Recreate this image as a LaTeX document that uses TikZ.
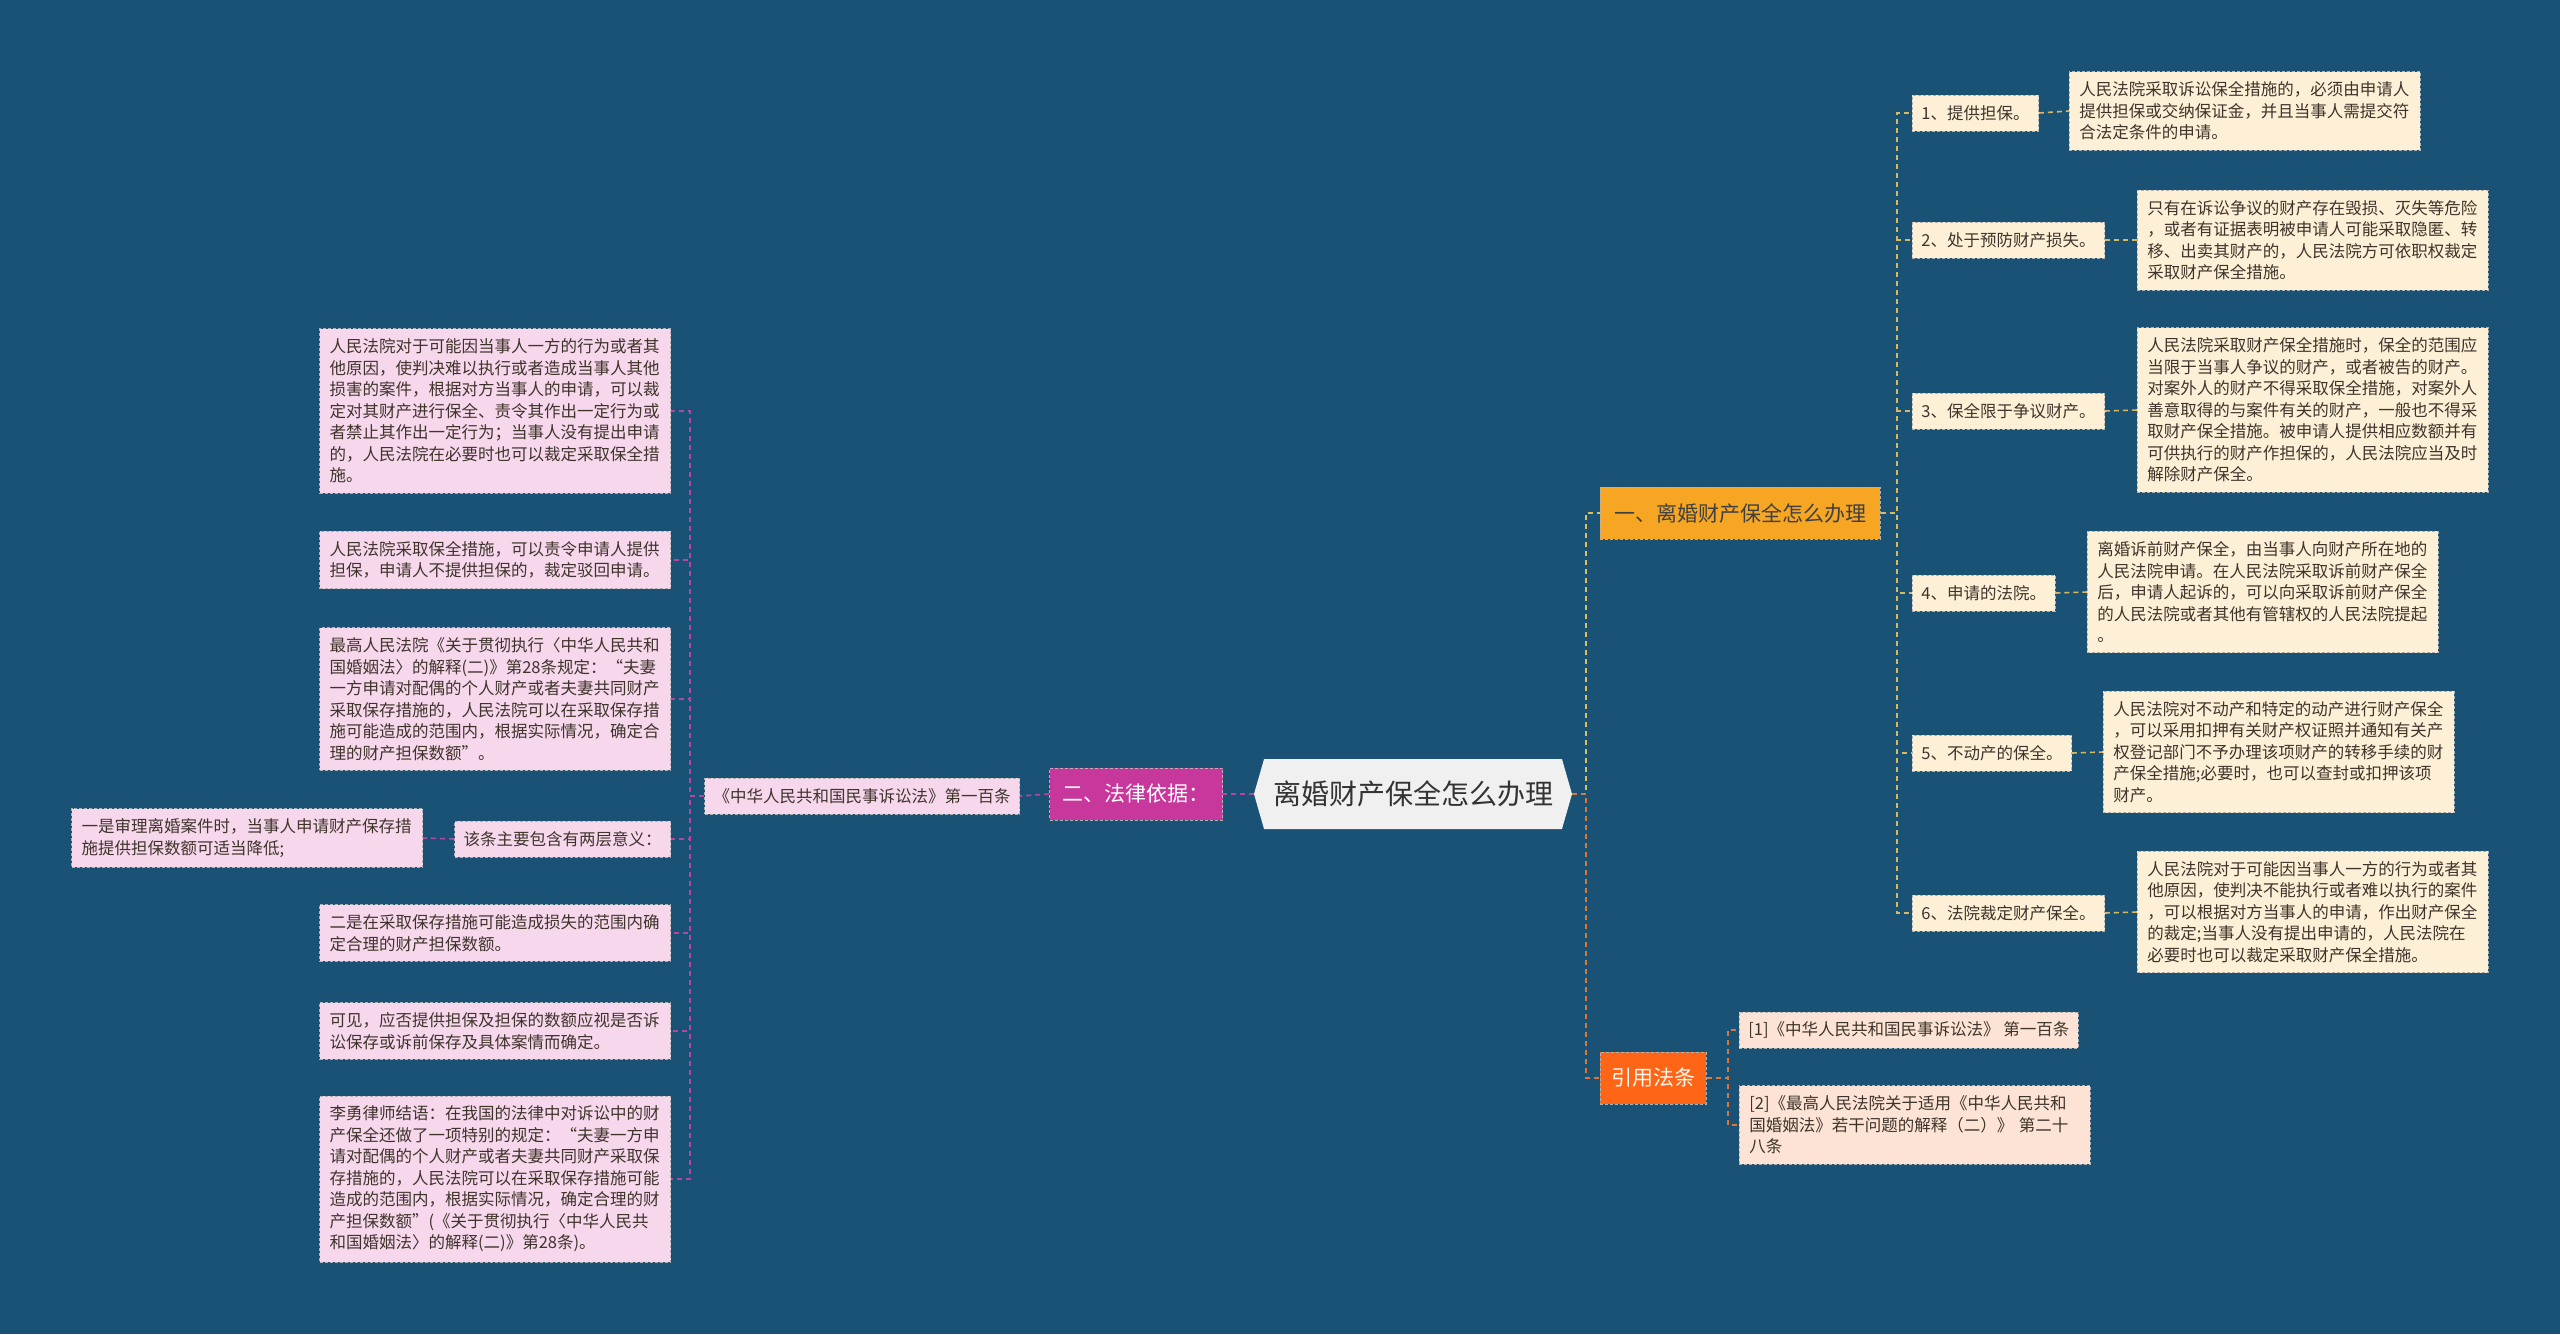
\documentclass[tikz,border=0pt]{standalone}
\usepackage{fontspec}
\setmainfont{Noto Sans CJK SC}
\usepackage{xcolor}
\usepackage{tikz}
\usetikzlibrary{shapes.symbols}
\definecolor{MapBg}{HTML}{1A5276}
\definecolor{MapRoot}{HTML}{F0F0F0}
\definecolor{MapGold}{HTML}{F6A623}
\definecolor{MapOrange}{HTML}{FF6516}
\definecolor{MapMagenta}{HTML}{C8379B}
\definecolor{MapCream}{HTML}{FDF0D6}
\definecolor{MapPeach}{HTML}{FCE3D5}
\definecolor{MapPink}{HTML}{F6D7EC}
\definecolor{MapLineGold}{HTML}{D9B862}
\definecolor{MapLineOrange}{HTML}{D9773C}
\definecolor{MapLineMagenta}{HTML}{B4489E}
\definecolor{MapInk}{HTML}{3F342B}

\begin{document}
\begin{tikzpicture}[
  x=1pt,
  y=-1pt,
  every node/.style={font=\fontsize{16.5}{21.5}\selectfont, inner xsep=10pt, inner ysep=10pt},
  box/.style={draw=gray!60!white, dash pattern=on 3pt off 2pt, line width=0.8pt, text=MapInk, align=left},
  leaf/.style={box, text width=331pt},
  tag/.style={box, minimum height=36pt, inner ysep=0pt, inner xsep=9pt},
  head/.style={box, font=\fontsize{21}{26}\selectfont, minimum height=52pt, inner ysep=0pt},
  link/.style={line width=1.6pt, dash pattern=on 5pt off 4pt}
]
\useasboundingbox (0,0) rectangle (2560,1334);
\fill[MapBg] (0,0) rectangle (2560,1334);

\node[signal, signal to=west and east, signal pointer angle=148, fill=MapRoot, text=black!80,
  font=\fontsize{28}{32}\selectfont, minimum height=70pt, minimum width=318pt, inner xsep=4pt]
  (root) at (1413,794) {离婚财产保全怎么办理};

\node[head, fill=MapGold, text=black!75, inner xsep=14pt, anchor=west] (howto) at (1600,513) {一、离婚财产保全怎么办理};
\node[head, fill=MapOrange, text=white!94!orange, inner xsep=11pt, anchor=west] (cite) at (1600,1078) {引用法条};
\node[head, fill=MapMagenta, text=white, inner xsep=13pt, anchor=east] (basis) at (1223,794) {二、法律依据：};

\node[tag, fill=MapCream, anchor=west] (step1) at (1912,113) {1、提供担保。};
\node[leaf, fill=MapCream, anchor=west] (note1) at (2069,111) {人民法院采取诉讼保全措施的，必须由申请人\\提供担保或交纳保证金，并且当事人需提交符\\合法定条件的申请。};

\node[tag, fill=MapCream, anchor=west] (step2) at (1912,240) {2、处于预防财产损失。};
\node[leaf, fill=MapCream, anchor=west] (note2) at (2137,240) {只有在诉讼争议的财产存在毁损、灭失等危险\\，或者有证据表明被申请人可能采取隐匿、转\\移、出卖其财产的，人民法院方可依职权裁定\\采取财产保全措施。};

\node[tag, fill=MapCream, anchor=west] (step3) at (1912,411) {3、保全限于争议财产。};
\node[leaf, fill=MapCream, anchor=west] (note3) at (2137,410) {人民法院采取财产保全措施时，保全的范围应\\当限于当事人争议的财产，或者被告的财产。\\对案外人的财产不得采取保全措施，对案外人\\善意取得的与案件有关的财产，一般也不得采\\取财产保全措施。被申请人提供相应数额并有\\可供执行的财产作担保的，人民法院应当及时\\解除财产保全。};

\node[tag, fill=MapCream, anchor=west] (step4) at (1912,593) {4、申请的法院。};
\node[leaf, fill=MapCream, anchor=west] (note4) at (2087,592) {离婚诉前财产保全，由当事人向财产所在地的\\人民法院申请。在人民法院采取诉前财产保全\\后，申请人起诉的，可以向采取诉前财产保全\\的人民法院或者其他有管辖权的人民法院提起\\。};

\node[tag, fill=MapCream, anchor=west] (step5) at (1912,753) {5、不动产的保全。};
\node[leaf, fill=MapCream, anchor=west] (note5) at (2103,752) {人民法院对不动产和特定的动产进行财产保全\\，可以采用扣押有关财产权证照并通知有关产\\权登记部门不予办理该项财产的转移手续的财\\产保全措施;必要时，也可以查封或扣押该项\\财产。};

\node[tag, fill=MapCream, anchor=west] (step6) at (1912,913) {6、法院裁定财产保全。};
\node[leaf, fill=MapCream, anchor=west] (note6) at (2137,912) {人民法院对于可能因当事人一方的行为或者其\\他原因，使判决不能执行或者难以执行的案件\\，可以根据对方当事人的申请，作出财产保全\\的裁定;当事人没有提出申请的，人民法院在\\必要时也可以裁定采取财产保全措施。};

\node[tag, fill=MapPeach, anchor=west] (ref1) at (1739,1030) {[1]《中华人民共和国民事诉讼法》 第一百条};
\node[leaf, fill=MapPeach, anchor=west] (ref2) at (1739,1125) {[2]《最高人民法院关于适用《中华人民共和\\国婚姻法》若干问题的解释（二）》 第二十\\八条};

\node[tag, fill=MapPink, anchor=east] (law100) at (1020,796) {《中华人民共和国民事诉讼法》第一百条};

\node[leaf, fill=MapPink, anchor=east] (left1) at (671,411) {人民法院对于可能因当事人一方的行为或者其\\他原因，使判决难以执行或者造成当事人其他\\损害的案件，根据对方当事人的申请，可以裁\\定对其财产进行保全、责令其作出一定行为或\\者禁止其作出一定行为；当事人没有提出申请\\的，人民法院在必要时也可以裁定采取保全措\\施。};
\node[leaf, fill=MapPink, anchor=east] (left2) at (671,560) {人民法院采取保全措施，可以责令申请人提供\\担保，申请人不提供担保的，裁定驳回申请。};
\node[leaf, fill=MapPink, anchor=east] (left3) at (671,699) {最高人民法院《关于贯彻执行〈中华人民共和\\国婚姻法〉的解释(二)》第28条规定：“夫妻\\一方申请对配偶的个人财产或者夫妻共同财产\\采取保存措施的，人民法院可以在采取保存措\\施可能造成的范围内，根据实际情况，确定合\\理的财产担保数额”。};
\node[tag, fill=MapPink, anchor=east] (left4) at (671,839) {该条主要包含有两层意义：};
\node[leaf, fill=MapPink, anchor=east] (left4a) at (423,838) {一是审理离婚案件时，当事人申请财产保存措\\施提供担保数额可适当降低;};
\node[leaf, fill=MapPink, anchor=east] (left5) at (671,933) {二是在采取保存措施可能造成损失的范围内确\\定合理的财产担保数额。};
\node[leaf, fill=MapPink, anchor=east] (left6) at (671,1031) {可见，应否提供担保及担保的数额应视是否诉\\讼保存或诉前保存及具体案情而确定。};
\node[leaf, fill=MapPink, anchor=east] (left7) at (671,1179) {李勇律师结语：在我国的法律中对诉讼中的财\\产保全还做了一项特别的规定：“夫妻一方申\\请对配偶的个人财产或者夫妻共同财产采取保\\存措施的，人民法院可以在采取保存措施可能\\造成的范围内，根据实际情况，确定合理的财\\产担保数额”(《关于贯彻执行〈中华人民共\\和国婚姻法〉的解释(二)》第28条)。};

\draw[link, MapLineGold!90!yellow] (root.east) -- ++(14,0) |- (howto.west);
\draw[link, MapLineOrange] (root.east) -- ++(14,0) |- (cite.west);
\foreach \n in {1,...,6} {
  \draw[link, MapLineGold] (howto.east) -- ++(16,0) |- (step\n.west);
  \draw[link, MapLineGold] (step\n.east) -- (note\n.west);
}
\foreach \n in {1,2}
  \draw[link, MapLineOrange] (cite.east) -- ++(21,0) |- (ref\n.west);

\draw[link, MapLineMagenta, line width=2.6pt] (root.west) -- (basis.east);
\draw[link, MapLineMagenta] (basis.west) -- (law100.east);
\foreach \n in {1,...,7}
  \draw[link, MapLineMagenta] (law100.west) -- ++(-14,0) |- (left\n.east);
\draw[link, MapLineMagenta] (left4.west) -- (left4a.east);
\end{tikzpicture}
\end{document}
